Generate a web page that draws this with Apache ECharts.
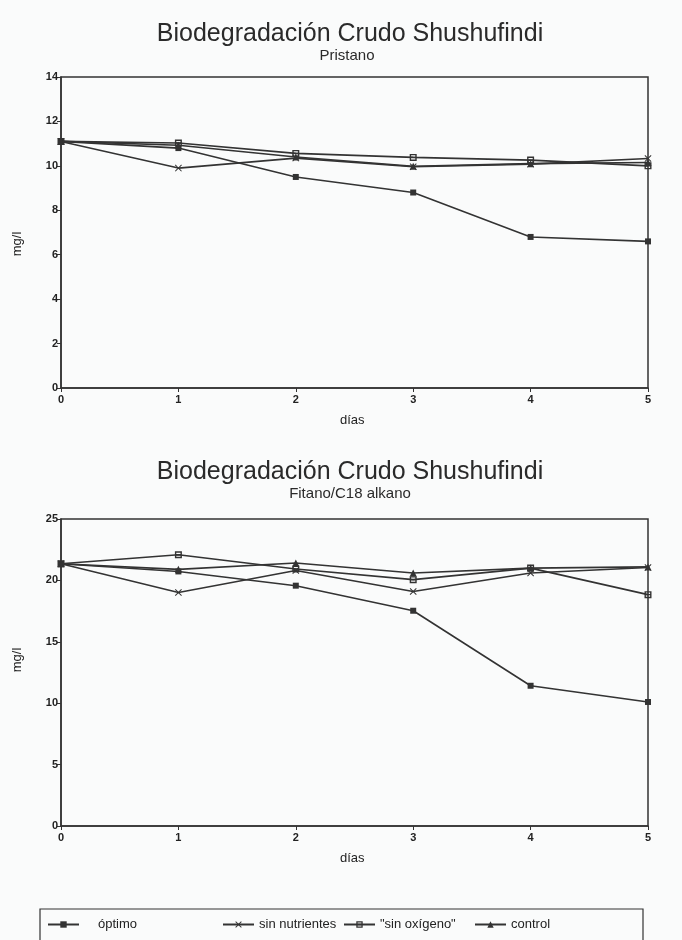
<!DOCTYPE html>
<html>
<head>
<meta charset="utf-8">
<script src="https://cdn.jsdelivr.net/npm/echarts@6/dist/echarts.min.js"></script>
<style>
html,body{margin:0;padding:0;background:#fafbfb;}
#c{width:682px;height:940px;}
</style>
</head>
<body>
<div id="c"></div>
<script>
const days = [0, 1, 2, 3, 4, 5];
const seriesNames = ['óptimo', 'sin nutrientes', '"sin oxígeno"', 'control'];

// Pristano (mg/l)
const pristanoOptimo = [11.1, 10.8, 9.5, 8.8, 6.8, 6.6];
const pristanoSinNutrientes = [11.1, 9.9, 10.35, 9.96, 10.08, 10.33];
const pristanoSinOxigeno = [11.1, 11.03, 10.56, 10.38, 10.26, 10.0];
const pristanoControl = [11.1, 10.93, 10.4, 9.98, 10.1, 10.15];

// Fitano/C18 alkano (mg/l)
const fitanoOptimo = [21.35, 20.73, 19.57, 17.53, 11.42, 10.1];
const fitanoSinNutrientes = [21.35, 19.02, 20.8, 19.1, 20.6, 21.05];
const fitanoSinOxigeno = [21.35, 22.09, 20.93, 20.06, 21.0, 18.84];
const fitanoControl = [21.35, 20.9, 21.42, 20.6, 21.0, 21.1];

const yTicks1 = [0, 2, 4, 6, 8, 10, 12, 14];
const yTicks2 = [0, 5, 10, 15, 20, 25];

const titleText = 'Biodegradación Crudo Shushufindi';
const subtitle1 = 'Pristano';
const subtitle2 = 'Fitano/C18 alkano';
const xName = 'días';
const yName = 'mg/l';

const INK = '#333';
const FONT = 'Liberation Sans, Arial, Helvetica, sans-serif';
const SYM = {
  'óptimo': 'rect',
  'sin nutrientes': 'path://M0,1L1,0L5,4L9,0L10,1L6,5L10,9L9,10L5,6L1,10L0,9L4,5Z',
  '"sin oxígeno"': 'path://M0,0H10V10H0Z M2,2V4H8V2Z M2,6V8H8V6Z',
  'control': 'triangle'
};
const SIZE = {'óptimo': 6, 'sin nutrientes': 7, '"sin oxígeno"': 7, 'control': 7};

function mk(name, arr, gi) {
  return {
    name: name, type: 'line', xAxisIndex: gi, yAxisIndex: gi,
    data: days.map((d, i) => [d, arr[i]]),
    symbol: SYM[name], symbolSize: SIZE[name], showSymbol: true,
    lineStyle: {color: INK, width: 1.6},
    itemStyle: {color: INK},
    animation: false, z: 3
  };
}

const grids = [
  {left: 61, right: 34, top: 77, height: 311},
  {left: 61, right: 34, top: 519, height: 307}
];

function xAxis(gi) {
  return {
    type: 'value', gridIndex: gi, min: 0, max: 5, interval: 1,
    axisLine: {show: true, lineStyle: {color: INK, width: 1.5}},
    axisTick: {show: true, length: 4, lineStyle: {color: INK, width: 1}},
    axisLabel: {color: '#222', fontSize: 11, fontWeight: 'bold', fontFamily: FONT, margin: 6},
    splitLine: {show: false}
  };
}
function yAxis(gi, max, interval) {
  return {
    type: 'value', gridIndex: gi, min: 0, max: max, interval: interval,
    axisLine: {show: true, lineStyle: {color: INK, width: 1.5}},
    axisTick: {show: true, length: 4, lineStyle: {color: INK, width: 1}},
    axisLabel: {color: '#222', fontSize: 11, fontWeight: 'bold', fontFamily: FONT, margin: 3},
    splitLine: {show: false}
  };
}

const legendPos = [47, 222, 343, 474];
const legendPad = [14, 0, 0, 0];
const legends = seriesNames.map((n, i) => ({
  data: [n], left: legendPos[i], top: 918, padding: 0, itemWidth: 31, itemHeight: 8, itemGap: 4,
  textStyle: {color: '#222', fontSize: 13, fontFamily: FONT, padding: [0, 0, 0, legendPad[i]]},
  selectedMode: false
}));

const chart = echarts.init(document.getElementById('c'), null, {renderer: 'canvas'});
chart.setOption({
  backgroundColor: '#fafbfb',
  animation: false,
  title: [
    {text: titleText, left: 345, top: 17, textAlign: 'center',
     textStyle: {fontSize: 25, fontWeight: 'normal', color: '#2a2a2a', fontFamily: FONT}},
    {text: subtitle1, left: 342, top: 43, textAlign: 'center',
     textStyle: {fontSize: 15, fontWeight: 'normal', color: '#2a2a2a', fontFamily: FONT}},
    {text: titleText, left: 345, top: 455, textAlign: 'center',
     textStyle: {fontSize: 25, fontWeight: 'normal', color: '#2a2a2a', fontFamily: FONT}},
    {text: subtitle2, left: 345, top: 481, textAlign: 'center',
     textStyle: {fontSize: 15, fontWeight: 'normal', color: '#2a2a2a', fontFamily: FONT}}
  ],
  grid: grids.map(g => Object.assign({show: true, borderColor: INK, borderWidth: 1.5, backgroundColor: 'transparent'}, g)),
  xAxis: [xAxis(0), xAxis(1)],
  yAxis: [yAxis(0, 14, 2), yAxis(1, 25, 5)],
  legend: legends,
  series: [
    mk(seriesNames[0], pristanoOptimo, 0),
    mk(seriesNames[1], pristanoSinNutrientes, 0),
    mk(seriesNames[2], pristanoSinOxigeno, 0),
    mk(seriesNames[3], pristanoControl, 0),
    mk(seriesNames[0], fitanoOptimo, 1),
    mk(seriesNames[1], fitanoSinNutrientes, 1),
    mk(seriesNames[2], fitanoSinOxigeno, 1),
    mk(seriesNames[3], fitanoControl, 1)
  ],
  graphic: [
    {type: 'text', left: 340, top: 414, style: {text: xName, fill: '#222', font: '13px ' + FONT}},
    {type: 'text', left: 340, top: 852, style: {text: xName, fill: '#222', font: '13px ' + FONT}},
    {type: 'text', x: 17, y: 244, rotation: Math.PI / 2, style: {text: yName, fill: '#222', font: '13px ' + FONT, textAlign: 'center', textVerticalAlign: 'middle'}},
    {type: 'text', x: 17, y: 660, rotation: Math.PI / 2, style: {text: yName, fill: '#222', font: '13px ' + FONT, textAlign: 'center', textVerticalAlign: 'middle'}},
    {type: 'rect', shape: {x: 40, y: 909, width: 603, height: 40}, style: {fill: 'none', stroke: INK, lineWidth: 1.2}, z: 0}
  ]
});
</script>
</body>
</html>
